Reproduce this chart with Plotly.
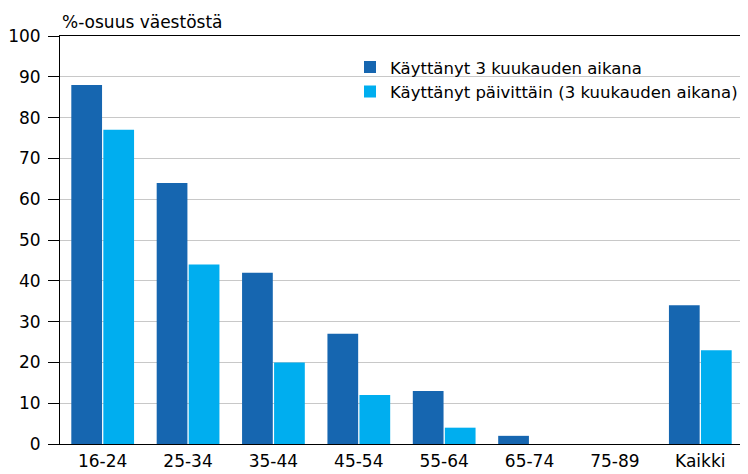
import plotly.graph_objects as go

categories = ["16-24", "25-34", "35-44", "45-54", "55-64", "65-74", "75-89", "Kaikki"]
series_3kk = [88, 64, 42, 27, 13, 2, 0, 34]
series_daily = [77, 44, 20, 12, 4, 0, 0, 23]
name_3kk = "Käyttänyt 3 kuukauden aikana"
name_daily = "Käyttänyt päivittäin (3 kuukauden aikana)"
y_ticks = list(range(0, 101, 10))

FONT = "DejaVu Sans, Verdana, sans-serif"

fig = go.Figure()
fig.add_trace(go.Bar(x=categories, y=series_3kk, name=name_3kk,
                     marker=dict(color="#1666B0", line=dict(width=0))))
fig.add_trace(go.Bar(x=categories, y=series_daily, name=name_daily,
                     marker=dict(color="#00AEEF", line=dict(width=0))))

# page body has an 8px margin, so the figure is shrunk to fit the 748x474 window
fig.update_layout(
    width=740, height=466,
    margin=dict(l=52, r=5, t=28, b=30, autoexpand=False),
    paper_bgcolor="white", plot_bgcolor="white",
    font=dict(family=FONT, size=17, color="#000"),
    barmode="group", bargap=0.25, bargroupgap=0.04,
    showlegend=True,
    legend=dict(x=1.0, y=0.966, xanchor="right", yanchor="top",
                bgcolor="rgba(0,0,0,0)", font=dict(size=16.5, family=FONT),
                itemwidth=30),
    xaxis=dict(showline=True, linecolor="#000", linewidth=1, mirror=True,
               ticks="", tickfont=dict(size=17, family=FONT), showgrid=False,
               ticklabelstandoff=2, automargin=False),
    yaxis=dict(range=[0, 100], tickvals=y_ticks, showline=True, linecolor="#000",
               linewidth=1, mirror=True, ticks="outside", ticklen=11, tickcolor="#000",
               showgrid=True, gridcolor="#c8c8c8", gridwidth=1,
               tickfont=dict(size=17, family=FONT), zeroline=False,
               ticklabelstandoff=4, automargin=False),
    annotations=[dict(text="%-osuus väestöstä", xref="paper", yref="paper",
                      x=0.0, y=1.0, xanchor="left", yanchor="bottom", yshift=2,
                      showarrow=False, font=dict(size=17, family=FONT))],
)

fig.write_html("out.html")
